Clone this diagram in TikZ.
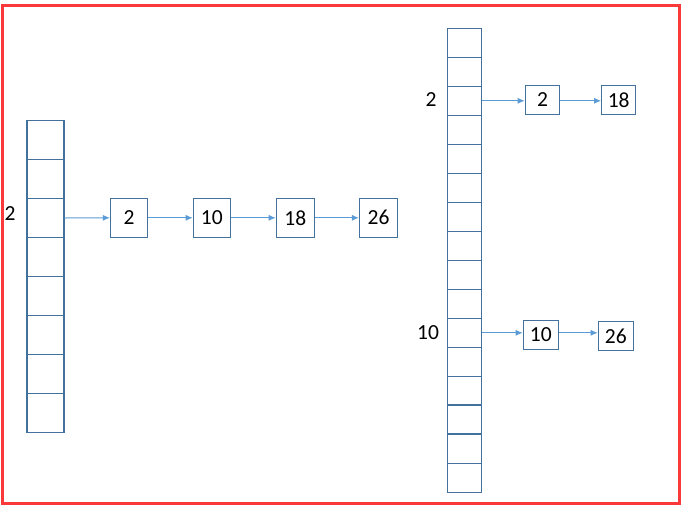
\documentclass[tikz,border=0pt]{standalone}
\usepackage{fontspec}
\setmainfont{Carlito}
\usetikzlibrary{arrows.meta}
\definecolor{boxblue}{RGB}{65,113,156}
\definecolor{arrblue}{RGB}{91,155,213}
\definecolor{frame}{RGB}{250,58,58}
\tikzset{
  cellL/.style={draw=boxblue, line width=1.2pt, minimum width=37pt, minimum height=39pt, inner sep=0pt},
  cellR/.style={draw=boxblue, line width=1.2pt, minimum width=34pt, minimum height=29pt, inner sep=0pt},
  lbox/.style={draw=boxblue, line width=1.2pt, minimum height=39pt, inner sep=0pt, font=\fontsize{21.5}{24}\selectfont},
  rbox/.style={draw=boxblue, line width=1.2pt, minimum height=28.6pt, inner sep=0pt, font=\fontsize{21.5}{24}\selectfont},
  lab/.style={inner sep=0pt, font=\fontsize{21.5}{24}\selectfont},
  link/.style={draw=arrblue, line width=1pt, -{Latex[length=7pt,width=6pt]}}
}
\begin{document}
\begin{tikzpicture}[x=1pt,y=-1pt]
\useasboundingbox (0,0) rectangle (684,509);
\draw[frame, line width=3pt] (2,5) rectangle (679,503);
% left array
\foreach \i in {1,...,8}{
  \node[cellL] (L\i) at (45.5,{120.5+19.5+39*(\i-1)}) {};
}
\node[lab] (lbl2) at (10,214) {2};
\node[lbox, minimum width=37pt] (a2) at (129,217.8) {2};
\node[lbox, minimum width=37pt] (a10) at (211.8,217.8) {10};
\node[lbox, minimum width=38pt] (a18) at (295.3,217.8) {18};
\node[lbox, minimum width=38pt] (a26) at (378.5,217.8) {26};
\draw[link] (L3.east) -- (a2.west);
\draw[link] (a2.east) -- (a10.west);
\draw[link] (a10.east) -- (a18.west);
\draw[link] (a18.east) -- (a26.west);
% right array
\foreach \i in {1,...,16}{
  \node[cellR] (R\i) at (464.3,{28.3+14.5+29*(\i-1)}) {};
}
\draw[boxblue, line width=2pt] (R14.north west) -- (R14.north east);
\draw[boxblue, line width=2pt] (R15.north west) -- (R15.north east);
\node[lab] (rl2) at (431,100) {2};
\node[lab] (rl10) at (428,333) {10};
\node[rbox, minimum width=34.4pt] (b2) at (542.5,100) {2};
\node[rbox, minimum width=34pt] (b18) at (618.7,100) {18};
\node[rbox, minimum width=35pt] (b10) at (540.8,335) {10};
\node[rbox, minimum width=35pt, text depth=-5pt] (b26) at (615.8,336) {26};
\draw[link] (R3.east) -- (R3.east -| b2.west);
\draw[link] (R3.east -| b2.east) -- (R3.east -| b18.west);
\draw[link] (R11.east) -- (R11.east -| b10.west);
\draw[link] (R11.east -| b10.east) -- (R11.east -| b26.west);
\end{tikzpicture}
\end{document}
